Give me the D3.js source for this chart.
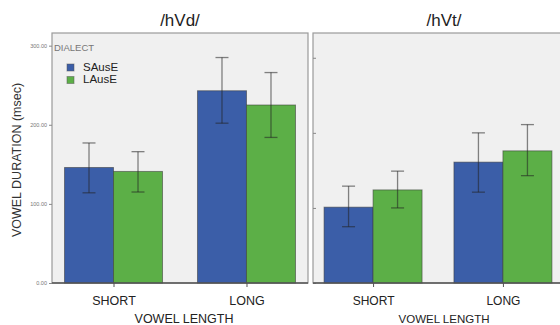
<!DOCTYPE html>
<html>
<head>
<meta charset="utf-8">
<script src="https://cdn.jsdelivr.net/npm/d3@7"></script>
<style>
  body { margin: 0; background: #fff; }
  text { font-family: "Liberation Sans", Arial, sans-serif; }
</style>
</head>
<body>
<script>
// data
var panels = ["/hVd/", "/hVt/"];
var lengths = ["SHORT", "LONG"];
var dialects = ["SAusE", "LAusE"];
// means [length][dialect], plus error bar ends
var hVdMeans = [[146, 141], [243, 225]];
var hVdLow   = [[114, 115], [202, 184]];
var hVdHigh  = [[177, 166], [285, 266]];
var hVtMeans = [[101, 124], [161, 176]];
var hVtLow   = [[75, 100], [121, 143]];
var hVtHigh  = [[129, 149], [200, 211]];
var yTicks = [0, 100, 200, 300];

var colors = ["#3b5ea8", "#5caf47"];
var w = 560, h = 325;

var svg = d3.select("body").append("svg")
    .attr("width", w)
    .attr("height", h);

// the two panels were scaled a bit differently in the source image
var layout = [
  { x0: 52, x1: 308, yTop: 33, y0: 283, yMax: 316, means: hVdMeans, low: hVdLow, high: hVdHigh,
    titleX: 180, titleY: 26, labels: true, xTitleX: 184, font: 12.5 },
  { x0: 313, x1: 563, yTop: 33, y0: 283, yMax: 333, means: hVtMeans, low: hVtLow, high: hVtHigh,
    titleX: 444, titleY: 26, labels: false, xTitleX: 444, font: 12 }
];

layout.forEach(function(p, pi) {
  var y = d3.scaleLinear().domain([0, p.yMax]).range([p.y0, p.yTop]);
  var x = d3.scalePoint().domain(lengths).range([p.x0, p.x1]).padding(0.4625);
  var barW = 49;
  var xs = d3.scaleBand().domain(dialects).range([-barW, barW]);

  var g = svg.append("g");

  g.append("rect")
    .attr("x", p.x0).attr("y", p.yTop)
    .attr("width", p.x1 - p.x0).attr("height", p.y0 - p.yTop)
    .attr("fill", "#f0f0f0")
    .attr("stroke", "#9a9a9a")
    .attr("stroke-width", 1.2);

  // y axis
  var yAxis = g.append("g")
    .attr("transform", "translate(" + p.x0 + ",0)")
    .call(d3.axisLeft(y).tickValues(yTicks).tickSize(3)
      .tickFormat(p.labels ? d3.format(".2f") : ""));
  yAxis.select(".domain").remove();
  yAxis.selectAll("line").attr("stroke", "#888").attr("transform", p.labels ? null : "translate(3,0)");
  yAxis.selectAll("text").attr("font-size", 5.5).attr("fill", "#777").attr("dx", 1)
    .style("font-family", "Liberation Sans, Arial, sans-serif");

  // bars
  lengths.forEach(function(len, li) {
    dialects.forEach(function(d, di) {
      var bx = x(len) + xs(d);
      var m = p.means[li][di];
      g.append("rect")
        .attr("x", bx).attr("y", y(m))
        .attr("width", xs.bandwidth()).attr("height", y(0) - y(m))
        .attr("fill", colors[di])
        .attr("stroke", "#3a3a3a")
        .attr("stroke-opacity", 0.55)
        .attr("stroke-width", 1);
      var cx = bx + xs.bandwidth() / 2;
      var lo = y(p.low[li][di]), hi = y(p.high[li][di]);
      var eb = g.append("g").attr("stroke", "#222").attr("stroke-opacity", 0.55).attr("stroke-width", 1.3);
      eb.append("line").attr("x1", cx).attr("x2", cx).attr("y1", hi).attr("y2", lo);
      eb.append("line").attr("x1", cx - 6.5).attr("x2", cx + 6.5).attr("y1", hi).attr("y2", hi);
      eb.append("line").attr("x1", cx - 6.5).attr("x2", cx + 6.5).attr("y1", lo).attr("y2", lo);
    });
  });

  // baseline + x ticks
  g.append("line")
    .attr("x1", p.x0).attr("x2", p.x1).attr("y1", p.y0).attr("y2", p.y0)
    .attr("stroke", "#555").attr("stroke-width", 1.3);
  var xAxis = g.append("g")
    .attr("transform", "translate(0," + p.y0 + ")")
    .call(d3.axisBottom(x).tickSize(4).tickPadding(9));
  xAxis.select(".domain").remove();
  xAxis.selectAll("line").attr("stroke", "#555");
  xAxis.selectAll("text").attr("font-size", p.font).attr("fill", "#222")
    .style("font-family", "Liberation Sans, Arial, sans-serif");

  g.append("text")
    .attr("x", p.xTitleX).attr("y", 323)
    .attr("text-anchor", "middle")
    .attr("font-size", pi === 0 ? 12.5 : 11.5)
    .attr("fill", "#222")
    .text("VOWEL LENGTH");

  g.append("text")
    .attr("x", p.titleX).attr("y", p.titleY)
    .attr("text-anchor", "middle")
    .attr("font-size", 17)
    .attr("fill", "#222")
    .text(panels[pi]);
});

// y title
svg.append("text")
  .attr("transform", "translate(21,160) rotate(-90)")
  .attr("text-anchor", "middle")
  .attr("font-size", 12.5)
  .attr("fill", "#333")
  .text("VOWEL DURATION (msec)");

// legend
var leg = svg.append("g");
leg.append("text")
  .attr("x", 54).attr("y", 51)
  .attr("font-size", 9.5)
  .attr("fill", "#777")
  .text("DIALECT");
dialects.forEach(function(d, i) {
  leg.append("rect")
    .attr("x", 67).attr("y", 64 + i * 12.5)
    .attr("width", 7).attr("height", 7)
    .attr("fill", colors[i])
    .attr("stroke", "#555").attr("stroke-opacity", 0.5);
  leg.append("text")
    .attr("x", 83).attr("y", 71 + i * 12)
    .attr("font-size", 11.5)
    .attr("fill", "#222")
    .text(d);
});
</script>
</body>
</html>
